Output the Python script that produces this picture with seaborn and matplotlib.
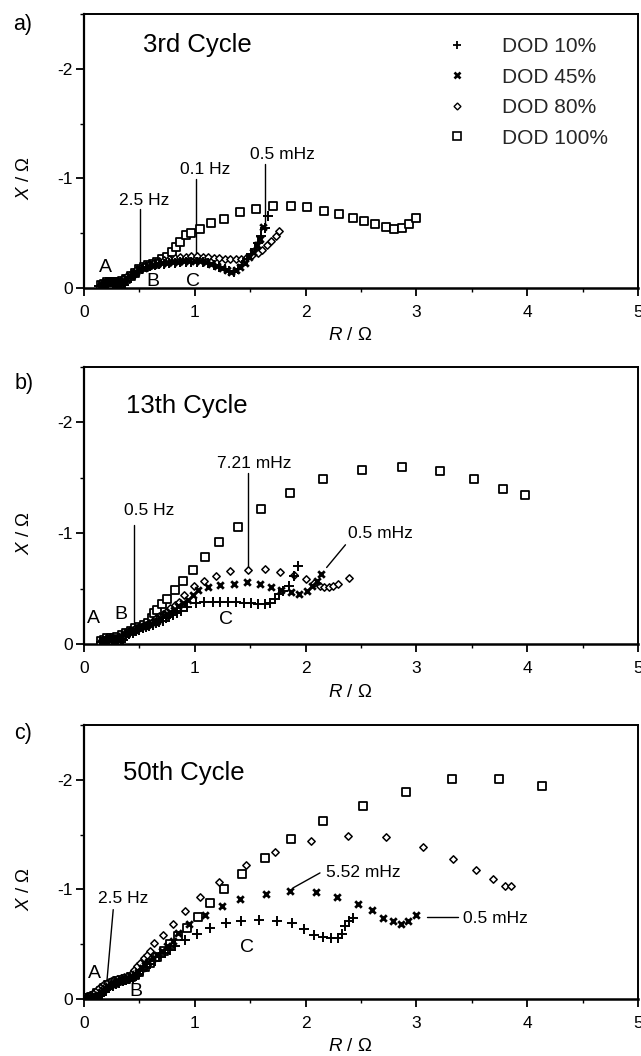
import matplotlib
matplotlib.use('Agg')
import matplotlib.pyplot as plt
import seaborn as sns
from matplotlib.ticker import MultipleLocator, FixedLocator
from matplotlib.lines import Line2D

sns.set_theme(style='white')
plt.rcParams['font.family'] = ['Liberation Sans', 'DejaVu Sans']
plt.rcParams['axes.unicode_minus'] = False
plt.rcParams['mathtext.fontset'] = 'custom'
plt.rcParams['mathtext.it'] = 'Liberation Sans:italic'
plt.rcParams['mathtext.rm'] = 'Liberation Sans'

series = ['DOD 10%', 'DOD 45%', 'DOD 80%', 'DOD 100%']
titles = ['3rd Cycle', '13th Cycle', '50th Cycle']
panel_labels = ['a)', 'b)', 'c)']
x_ticks = [0, 1, 2, 3, 4, 5]
y_ticks = [0, -1, -2]

# ---------------- panel a : 3rd cycle ----------------
a_R10 = [0.14, 0.16, 0.18, 0.20, 0.22, 0.24, 0.26, 0.28, 0.30, 0.33, 0.36, 0.39, 0.42, 0.45, 0.48,
         0.52, 0.56, 0.60, 0.64, 0.68, 0.72, 0.77, 0.82, 0.87, 0.92, 0.97, 1.02, 1.07, 1.12, 1.17,
         1.22, 1.27, 1.31, 1.35, 1.39, 1.43, 1.47, 1.51, 1.54, 1.57, 1.60, 1.63, 1.66]
a_X10 = [-0.02, -0.03, -0.04, -0.05, -0.05, -0.05, -0.04, -0.03, -0.02, -0.01, -0.03, -0.06, -0.09, -0.12, -0.15,
         -0.17, -0.19, -0.20, -0.21, -0.215, -0.22, -0.225, -0.23, -0.235, -0.24, -0.24, -0.24, -0.235, -0.225, -0.21,
         -0.19, -0.17, -0.155, -0.15, -0.17, -0.21, -0.26, -0.31, -0.36, -0.41, -0.47, -0.55, -0.66]
a_R45 = [0.15, 0.17, 0.19, 0.21, 0.23, 0.25, 0.27, 0.29, 0.32, 0.35, 0.38, 0.41, 0.44, 0.47, 0.50,
         0.54, 0.58, 0.62, 0.66, 0.70, 0.75, 0.80, 0.85, 0.90, 0.95, 1.00, 1.05, 1.10, 1.15, 1.20,
         1.25, 1.29, 1.33, 1.37, 1.41, 1.45, 1.49, 1.53, 1.56, 1.59, 1.62]
a_X45 = [-0.02, -0.03, -0.04, -0.05, -0.05, -0.05, -0.05, -0.05, -0.06, -0.07, -0.09, -0.11, -0.13, -0.15, -0.17,
         -0.18, -0.20, -0.21, -0.22, -0.225, -0.23, -0.235, -0.24, -0.245, -0.25, -0.25, -0.245, -0.235, -0.22, -0.20,
         -0.18, -0.16, -0.15, -0.16, -0.19, -0.23, -0.28, -0.33, -0.39, -0.45, -0.56]
a_R80 = [0.16, 0.18, 0.20, 0.22, 0.24, 0.26, 0.28, 0.30, 0.33, 0.36, 0.39, 0.42, 0.45, 0.48, 0.52,
         0.56, 0.60, 0.64, 0.68, 0.72, 0.77, 0.82, 0.87, 0.92, 0.97, 1.02, 1.07, 1.12, 1.17, 1.22,
         1.27, 1.32, 1.37, 1.42, 1.47, 1.52, 1.57, 1.61, 1.65, 1.69, 1.73, 1.76]
a_X80 = [-0.03, -0.04, -0.05, -0.06, -0.06, -0.06, -0.06, -0.06, -0.07, -0.09, -0.11, -0.13, -0.15, -0.17, -0.19,
         -0.21, -0.22, -0.235, -0.245, -0.255, -0.265, -0.275, -0.28, -0.285, -0.29, -0.29, -0.285, -0.28, -0.275, -0.27,
         -0.265, -0.26, -0.26, -0.265, -0.28, -0.30, -0.32, -0.35, -0.39, -0.43, -0.47, -0.52]
a_R100 = [0.15, 0.18, 0.21, 0.24, 0.27, 0.30, 0.34, 0.38, 0.42, 0.46, 0.50, 0.54, 0.58, 0.62, 0.66,
          0.70, 0.75, 0.79, 0.83, 0.865, 0.925, 0.97, 1.045, 1.15, 1.26, 1.41, 1.556, 1.71, 1.87, 2.01,
          2.17, 2.30, 2.43, 2.53, 2.63, 2.73, 2.80, 2.87, 2.93, 3.00]
a_X100 = [-0.03, -0.04, -0.05, -0.05, -0.05, -0.05, -0.06, -0.08, -0.11, -0.14, -0.17, -0.19, -0.21, -0.22, -0.24,
          -0.26, -0.285, -0.33, -0.375, -0.42, -0.48, -0.50, -0.536, -0.59, -0.63, -0.69, -0.72, -0.745, -0.75, -0.736,
          -0.706, -0.676, -0.642, -0.612, -0.58, -0.557, -0.54, -0.548, -0.588, -0.636]

# ---------------- panel b : 13th cycle ----------------
b_R10 = [0.15, 0.17, 0.19, 0.21, 0.23, 0.25, 0.27, 0.29, 0.31, 0.33, 0.35, 0.38, 0.41, 0.44, 0.47,
         0.50, 0.53, 0.56, 0.59, 0.62, 0.65, 0.68, 0.71, 0.74, 0.77, 0.80, 0.84, 0.88, 0.93, 1.01,
         1.08, 1.16, 1.23, 1.30, 1.37, 1.44, 1.51, 1.57, 1.63, 1.68, 1.72, 1.76, 1.80, 1.85, 1.90, 1.93]
b_X10 = [-0.02, -0.03, -0.03, -0.04, -0.04, -0.04, -0.04, -0.03, -0.02, -0.02, -0.04, -0.07, -0.09, -0.10, -0.12,
         -0.13, -0.14, -0.15, -0.16, -0.17, -0.19, -0.20, -0.21, -0.23, -0.24, -0.26, -0.28, -0.30, -0.33, -0.37,
         -0.38, -0.38, -0.38, -0.38, -0.38, -0.37, -0.37, -0.36, -0.36, -0.37, -0.41, -0.45, -0.48, -0.52, -0.61, -0.70]
b_R45 = [0.16, 0.18, 0.20, 0.22, 0.24, 0.26, 0.28, 0.30, 0.33, 0.36, 0.39, 0.42, 0.45, 0.48, 0.51,
         0.54, 0.57, 0.60, 0.63, 0.66, 0.69, 0.72, 0.75, 0.78, 0.81, 0.85, 0.89, 0.94, 0.98, 1.03,
         1.12, 1.23, 1.35, 1.47, 1.59, 1.69, 1.78, 1.87, 1.94, 2.01, 2.06, 2.10, 2.14]
b_X45 = [-0.03, -0.04, -0.04, -0.05, -0.05, -0.05, -0.05, -0.05, -0.07, -0.09, -0.11, -0.12, -0.13, -0.14, -0.15,
         -0.16, -0.17, -0.18, -0.20, -0.21, -0.23, -0.25, -0.27, -0.29, -0.31, -0.34, -0.37, -0.40, -0.44, -0.49,
         -0.51, -0.535, -0.545, -0.555, -0.545, -0.515, -0.49, -0.465, -0.45, -0.48, -0.525, -0.57, -0.635]
b_R80 = [0.17, 0.19, 0.21, 0.23, 0.25, 0.27, 0.29, 0.32, 0.35, 0.38, 0.41, 0.44, 0.47, 0.50, 0.53,
         0.56, 0.59, 0.62, 0.65, 0.68, 0.71, 0.74, 0.78, 0.82, 0.86, 0.90, 0.99, 1.08, 1.19, 1.32,
         1.48, 1.63, 1.77, 1.90, 2.00, 2.08, 2.13, 2.17, 2.21, 2.25, 2.29, 2.39]
b_X80 = [-0.03, -0.04, -0.05, -0.05, -0.05, -0.05, -0.05, -0.06, -0.08, -0.10, -0.12, -0.13, -0.14, -0.15, -0.16,
         -0.17, -0.19, -0.21, -0.23, -0.25, -0.27, -0.29, -0.32, -0.35, -0.38, -0.44, -0.52, -0.57, -0.615, -0.655,
         -0.67, -0.675, -0.645, -0.62, -0.585, -0.55, -0.52, -0.515, -0.515, -0.52, -0.54, -0.595]
b_R100 = [0.15, 0.18, 0.21, 0.24, 0.27, 0.30, 0.34, 0.38, 0.42, 0.46, 0.50, 0.54, 0.58, 0.61, 0.63,
          0.66, 0.70, 0.75, 0.82, 0.89, 0.98, 1.09, 1.22, 1.39, 1.60, 1.86, 2.16, 2.51, 2.87, 3.21,
          3.52, 3.78, 3.98]
b_X100 = [-0.03, -0.04, -0.05, -0.05, -0.05, -0.06, -0.08, -0.10, -0.12, -0.14, -0.15, -0.17, -0.19, -0.23, -0.28,
          -0.31, -0.36, -0.41, -0.49, -0.57, -0.67, -0.785, -0.92, -1.06, -1.22, -1.36, -1.49, -1.57, -1.60, -1.56,
          -1.49, -1.40, -1.34]

# ---------------- panel c : 50th cycle ----------------
c_R10 = [0.02, 0.04, 0.06, 0.08, 0.10, 0.12, 0.14, 0.16, 0.18, 0.20, 0.23, 0.26, 0.29, 0.32, 0.35,
         0.38, 0.41, 0.44, 0.47, 0.50, 0.53, 0.56, 0.60, 0.64, 0.68, 0.73, 0.78, 0.82, 0.91, 1.02,
         1.14, 1.28, 1.42, 1.58, 1.74, 1.875, 1.99, 2.08, 2.16, 2.23, 2.29, 2.33, 2.36, 2.39, 2.43]
c_X10 = [-0.01, -0.01, -0.01, -0.01, -0.01, -0.02, -0.03, -0.04, -0.06, -0.08, -0.10, -0.12, -0.14, -0.15, -0.16,
         -0.17, -0.18, -0.19, -0.21, -0.23, -0.26, -0.29, -0.32, -0.35, -0.38, -0.42, -0.45, -0.487, -0.54, -0.595,
         -0.65, -0.694, -0.715, -0.724, -0.715, -0.694, -0.64, -0.586, -0.565, -0.559, -0.559, -0.59, -0.67, -0.71, -0.74]
c_R45 = [0.03, 0.05, 0.07, 0.09, 0.11, 0.13, 0.15, 0.17, 0.19, 0.22, 0.25, 0.28, 0.31, 0.34, 0.37,
         0.40, 0.43, 0.46, 0.49, 0.52, 0.55, 0.58, 0.62, 0.66, 0.70, 0.75, 0.80, 0.853, 0.946, 1.095,
         1.25, 1.41, 1.64, 1.86, 2.09, 2.28, 2.47, 2.60, 2.70, 2.79, 2.86, 2.92, 3.00]
c_X45 = [-0.01, -0.01, -0.01, -0.02, -0.03, -0.04, -0.06, -0.08, -0.10, -0.12, -0.14, -0.15, -0.16, -0.17, -0.18,
         -0.19, -0.21, -0.23, -0.25, -0.28, -0.31, -0.34, -0.37, -0.40, -0.44, -0.48, -0.53, -0.606, -0.68, -0.764,
         -0.845, -0.913, -0.958, -0.985, -0.973, -0.934, -0.866, -0.815, -0.74, -0.715, -0.685, -0.715, -0.77]
c_R80 = [0.02, 0.04, 0.06, 0.08, 0.10, 0.12, 0.14, 0.16, 0.18, 0.21, 0.24, 0.27, 0.30, 0.33, 0.36,
         0.39, 0.42, 0.45, 0.48, 0.51, 0.54, 0.57, 0.60, 0.636, 0.713, 0.806, 0.915, 1.05, 1.22, 1.46,
         1.72, 2.05, 2.38, 2.73, 3.06, 3.33, 3.54, 3.69, 3.80, 3.85]
c_X80 = [-0.02, -0.03, -0.04, -0.05, -0.06, -0.08, -0.10, -0.12, -0.14, -0.15, -0.16, -0.17, -0.18, -0.19, -0.20,
         -0.21, -0.23, -0.26, -0.30, -0.33, -0.37, -0.40, -0.44, -0.507, -0.585, -0.687, -0.806, -0.93, -1.07, -1.22,
         -1.34, -1.44, -1.49, -1.48, -1.39, -1.28, -1.18, -1.09, -1.03, -1.03]
c_R100 = [0.03, 0.06, 0.09, 0.12, 0.15, 0.18, 0.22, 0.26, 0.30, 0.34, 0.38, 0.42, 0.46, 0.50, 0.55,
          0.60, 0.66, 0.72, 0.775, 0.85, 0.93, 1.03, 1.14, 1.26, 1.43, 1.63, 1.87, 2.16, 2.52, 2.91,
          3.32, 3.75, 4.13]
c_X100 = [-0.01, -0.02, -0.03, -0.05, -0.07, -0.10, -0.13, -0.15, -0.16, -0.17, -0.18, -0.20, -0.22, -0.25, -0.29,
          -0.33, -0.38, -0.44, -0.50, -0.576, -0.65, -0.746, -0.875, -1.00, -1.14, -1.29, -1.46, -1.62, -1.76, -1.89,
          -2.01, -2.01, -1.94]

panels = [
    [(a_R10, a_X10), (a_R45, a_X45), (a_R80, a_X80), (a_R100, a_X100)],
    [(b_R10, b_X10), (b_R45, b_X45), (b_R80, b_X80), (b_R100, b_X100)],
    [(c_R10, c_X10), (c_R45, c_X45), (c_R80, c_X80), (c_R100, c_X100)],
]

# annotations: (text, text_x, text_y, ha, line_x0, line_y0, line_x1, line_y1)
annotations = [
    [('2.5 Hz', 0.54, -0.80, 'center', 0.51, -0.72, 0.51, -0.225),
     ('0.1 Hz', 1.09, -1.08, 'center', 1.01, -0.99, 1.01, -0.30),
     ('0.5 mHz', 1.79, -1.22, 'center', 1.635, -1.13, 1.635, -0.58)],
    [('0.5 Hz', 0.585, -1.20, 'center', 0.453, -1.07, 0.453, -0.20),
     ('7.21 mHz', 1.54, -1.63, 'center', 1.478, -1.54, 1.478, -0.685),
     ('0.5 mHz', 2.68, -1.00, 'center', 2.36, -0.895, 2.19, -0.69)],
    [('2.5 Hz', 0.357, -0.913, 'center', 0.264, -0.815, 0.208, -0.173),
     ('5.52 mHz', 2.52, -1.15, 'center', 2.13, -1.15, 1.89, -1.015),
     ('0.5 mHz', 3.42, -0.73, 'left', 3.10, -0.75, 3.38, -0.75)],
]
region_labels = [
    [('A', 0.19, -0.19), ('B', 0.62, -0.06), ('C', 0.985, -0.06)],
    [('A', 0.09, -0.23), ('B', 0.33, -0.27), ('C', 1.28, -0.22)],
    [('A', 0.093, -0.233), ('B', 0.465, -0.069), ('C', 1.47, -0.47)],
]
title_pos = [(0.53, -2.22), (0.38, -2.15), (0.35, -2.06)]

styles = {
    'DOD 10%': dict(marker='+', s=42, linewidth=1.4, color='black'),
    'DOD 45%': dict(marker='x', s=22, linewidth=2.0, color='black'),
    'DOD 80%': dict(marker='D', s=14, color='white', edgecolor='black', linewidth=1.1),
    'DOD 100%': dict(marker='s', s=28, color='white', edgecolor='black', linewidth=1.3),
}
zorders = {'DOD 10%': 6, 'DOD 45%': 5, 'DOD 80%': 4, 'DOD 100%': 3}

fig = plt.figure(figsize=(6.41, 10.56), dpi=100)
rects = [[0.1310, 0.7273, 0.8643, 0.2595],
         [0.1310, 0.3902, 0.8643, 0.2623],
         [0.1310, 0.0540, 0.8643, 0.2595]]
label_pos = [(0.036, 0.977), (0.037, 0.637), (0.036, 0.305)]

for i, rect in enumerate(rects):
    ax = fig.add_axes(rect)
    ax.set_facecolor('white')
    for k in [3, 2, 1, 0]:
        R, X = panels[i][k]
        name = series[k]
        sns.scatterplot(x=R, y=X, ax=ax, legend=False, zorder=zorders[name], **styles[name])
    ax.set_xlim(0, 5)
    ax.set_ylim(0, -2.5)
    ax.xaxis.set_major_locator(FixedLocator(x_ticks))
    ax.yaxis.set_major_locator(FixedLocator(y_ticks))
    ax.xaxis.set_minor_locator(MultipleLocator(0.5))
    ax.yaxis.set_minor_locator(MultipleLocator(0.5))
    ax.set_xticklabels([str(t) for t in x_ticks])
    ax.set_yticklabels([str(t) for t in y_ticks])
    ax.tick_params(axis='both', which='major', direction='out', length=6, width=1.3,
                   labelsize=12.5, colors='black', bottom=True, left=True, top=False, right=False)
    ax.tick_params(axis='x', which='major', pad=6)
    ax.tick_params(axis='y', which='major', pad=2)
    ax.tick_params(axis='both', which='minor', direction='out', length=3, width=1.0,
                   bottom=True, left=True, top=False, right=False, color='black')
    for sp in ax.spines.values():
        sp.set_color('black')
        sp.set_linewidth(1.4)
    ax.spines['bottom'].set_linewidth(1.8)
    ax.spines['left'].set_linewidth(1.6)
    ax.set_xlabel('$R$ / Ω', fontsize=13.5, color='black')
    ax.set_ylabel('$X$ / Ω', fontsize=13.5, color='black')
    ax.xaxis.set_label_coords(0.48, -0.175)
    ax.xaxis.label.set_va('center')
    ax.yaxis.set_label_coords(-0.108, 0.40)
    ax.yaxis.label.set_va('center')
    ax.grid(False)

    tx, ty = title_pos[i]
    ax.text(tx, ty, titles[i], fontsize=18.5, ha='left', va='center', color='black')
    for (txt, x, y, ha, lx0, ly0, lx1, ly1) in annotations[i]:
        ax.text(x, y, txt, fontsize=12.5, ha=ha, va='center', color='black')
        ax.plot([lx0, lx1], [ly0, ly1], color='black', linewidth=1.0, zorder=2)
    for (txt, x, y) in region_labels[i]:
        ax.text(x, y, txt, fontsize=14, ha='center', va='center', color='black', zorder=10)
    fig.text(label_pos[i][0], label_pos[i][1], panel_labels[i], fontsize=15.5,
             ha='center', va='center', color='black')

    if i == 0:
        handles = [
            Line2D([], [], linestyle='none', marker='+', markersize=6, markeredgewidth=1.3, color='black'),
            Line2D([], [], linestyle='none', marker='x', markersize=5, markeredgewidth=1.9, color='black'),
            Line2D([], [], linestyle='none', marker='D', markersize=3.5, markeredgewidth=1.0,
                   markerfacecolor='white', markeredgecolor='black'),
            Line2D([], [], linestyle='none', marker='s', markersize=5.5, markeredgewidth=1.2,
                   markerfacecolor='white', markeredgecolor='black'),
        ]
        ax.legend(handles, series, loc='upper left', bbox_to_anchor=(0.655, 0.915), frameon=False,
                  fontsize=15, handlelength=1.0, handletextpad=1.65, labelspacing=0.55,
                  borderpad=0, borderaxespad=0)

fig.savefig('out.png', dpi=100, facecolor='white')
